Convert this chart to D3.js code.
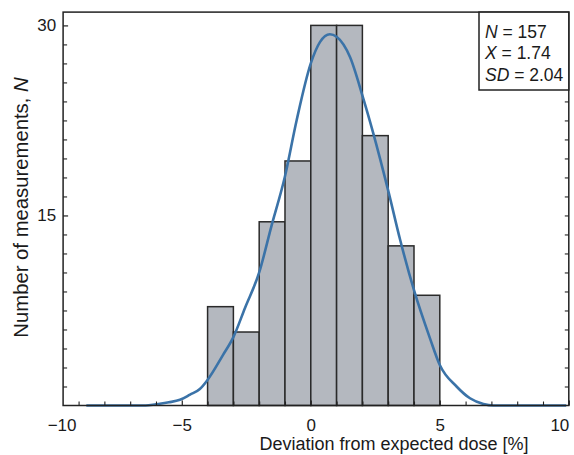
<!DOCTYPE html>
<html><head><meta charset="utf-8">
<script src="https://cdn.jsdelivr.net/npm/d3@7"></script>
<style>
body{margin:0;background:#fff}
svg{display:block}
text{font-family:"Liberation Sans",Arial,Helvetica,sans-serif;fill:#1a1a1a}
</style>
</head><body>
<svg id="c" width="574" height="455"></svg>
<script>
// ---- data ----
const binStarts = [-4, -3, -2, -1, 0, 1, 2, 3, 4];
const binWidth = 1;
const counts = [7.8, 5.8, 14.5, 19.3, 30, 30, 21.3, 12.6, 8.7];

const fitX = [-8.7, -7.0, -6.4, -6.0, -5.5, -5.07, -4.68, -4.3, -4.01, -3.4, -3.0, -2.55, -2.0, -1.52, -1.0, -0.55, 0.0, 0.36, 0.74, 1.0, 1.52, 2.01, 2.42, 3.02, 3.46, 4.0, 4.62, 5.0, 5.65, 6.17, 6.69, 7.07, 9.9];
const fitY = [0, 0, 0, 0.1, 0.25, 0.45, 0.86, 1.3, 2.0, 4.0, 5.4, 7.7, 10.5, 14.2, 18.1, 22.5, 27.0, 28.7, 29.3, 29.1, 27.5, 24.4, 21.5, 16.8, 13.1, 9.1, 5.3, 3.2, 1.5, 0.57, 0.12, 0, 0];

const xMajorTicks = [-10, -5, 0, 5, 10];
const xTickLabels = ["\u221210", "\u22125", "0", "5", "10"];
const xMinorTicks = [-9, -8, -7, -6, -4, -3, -2, -1, 1, 2, 3, 4, 6, 7, 8, 9];
const yMajorTicks = [15, 30];
const yTickLabels = ["15", "30"];
const yMinorTicks = [1.5, 3, 4.5, 6, 7.5, 9, 10.5, 12, 13.5, 16.5, 18, 19.5, 21, 22.5, 24, 25.5, 27, 28.5];

const statNames = ["N", "X", "SD"];
const statValues = ["157", "1.74", "2.04"];

// ---- layout ----
const W = 574, H = 455;
const m = {left: 63.1, right: 5.2, top: 12.1, bottom: 49.5};
const svg = d3.select("#c");
const x = d3.scaleLinear().domain([-9.6, 10]).range([m.left, W - m.right]);
const y = d3.scaleLinear().domain([0, 31.05]).range([H - m.bottom, m.top]);
const ink = "#222";

// bars
svg.append("g").selectAll("rect").data(binStarts).join("rect")
  .attr("x", d => x(d))
  .attr("width", d => x(d + binWidth) - x(d))
  .attr("y", (d, i) => y(counts[i]))
  .attr("height", (d, i) => y(0) - y(counts[i]))
  .attr("fill", "#b4b8bf")
  .attr("stroke", "#2a2a2a")
  .attr("stroke-width", 1.5);

// fit curve
const line = d3.line().x(d => x(d[0])).y(d => y(d[1])).curve(d3.curveMonotoneX);
svg.append("path")
  .datum(fitX.map((v, i) => [v, fitY[i]]))
  .attr("d", line)
  .attr("fill", "none")
  .attr("stroke", "#3b73a8")
  .attr("stroke-width", 2.6);

// frame
svg.append("rect")
  .attr("x", x.range()[0]).attr("y", y.range()[1])
  .attr("width", x.range()[1] - x.range()[0])
  .attr("height", y.range()[0] - y.range()[1])
  .attr("fill", "none").attr("stroke", ink).attr("stroke-width", 1.5);

// x axis
const gx = svg.append("g").attr("transform", `translate(0,${y(0)})`)
  .call(d3.axisBottom(x).tickValues(xMajorTicks)
    .tickFormat((d, i) => xTickLabels[i])
    .tickSizeInner(-5).tickSizeOuter(0).tickPadding(13.5));
gx.select(".domain").remove();
gx.selectAll(".tick line").attr("stroke", ink).attr("stroke-width", 1.2);
gx.selectAll(".tick text").attr("font-size", 17).style("fill", "#1a1a1a");
gx.selectAll(".tick").each(function(d) {
  const t = d3.select(this);
  if (d < x.domain()[0]) { // label at frame start
    t.attr("transform", `translate(${x.range()[0] - 1},0)`);
    t.select("line").remove();
  }
  if (d === x.domain()[1]) t.select("text").attr("text-anchor", "end");
});
const gxm = svg.append("g").attr("transform", `translate(0,${y(0)})`)
  .call(d3.axisBottom(x).tickValues(xMinorTicks).tickFormat("").tickSizeInner(-4).tickSizeOuter(0));
gxm.select(".domain").remove();
gxm.selectAll(".tick line").attr("stroke", ink).attr("stroke-width", 1.1);

// y axis (left)
const gy = svg.append("g").attr("transform", `translate(${x.range()[0]},0)`)
  .call(d3.axisLeft(y).tickValues(yMajorTicks)
    .tickFormat((d, i) => yTickLabels[i])
    .tickSizeInner(-5).tickSizeOuter(0).tickPadding(7));
gy.select(".domain").remove();
gy.selectAll(".tick line").attr("stroke", ink).attr("stroke-width", 1.2);
gy.selectAll(".tick text").attr("font-size", 17).style("fill", "#1a1a1a");
const gym = svg.append("g").attr("transform", `translate(${x.range()[0]},0)`)
  .call(d3.axisLeft(y).tickValues(yMinorTicks).tickFormat("").tickSizeInner(-4).tickSizeOuter(0));
gym.select(".domain").remove();
gym.selectAll(".tick line").attr("stroke", ink).attr("stroke-width", 1.1);

// y axis (right mirror ticks)
const gyr = svg.append("g").attr("transform", `translate(${x.range()[1]},0)`)
  .call(d3.axisRight(y).tickValues(yMajorTicks.concat(yMinorTicks)).tickFormat("").tickSizeInner(-4).tickSizeOuter(0));
gyr.select(".domain").remove();
gyr.selectAll(".tick line").attr("stroke", ink).attr("stroke-width", 1.1);

// axis titles
svg.append("text")
  .attr("x", 394).attr("y", 449.5)
  .attr("text-anchor", "middle").attr("font-size", 18)
  .text("Deviation from expected dose [%]");
const yt = svg.append("text")
  .attr("transform", "translate(28,207.5) rotate(-90)")
  .attr("text-anchor", "middle").attr("font-size", 20.3);
yt.append("tspan").text("Number of measurements, ");
yt.append("tspan").attr("font-style", "italic").text("N");

// stats box
const bx0 = 479, by1 = 90;
svg.append("rect")
  .attr("x", bx0).attr("y", y.range()[1])
  .attr("width", x.range()[1] - bx0).attr("height", by1 - y.range()[1])
  .attr("fill", "#fff").attr("stroke", ink).attr("stroke-width", 1.5);
const baselines = [37.5, 59, 80.5];
statNames.forEach((n, i) => {
  const t = svg.append("text").attr("x", 485).attr("y", baselines[i]).attr("font-size", 17.5);
  t.append("tspan").attr("font-style", "italic").text(n);
  t.append("tspan").text(" = " + statValues[i]);
});
</script>
</body></html>
